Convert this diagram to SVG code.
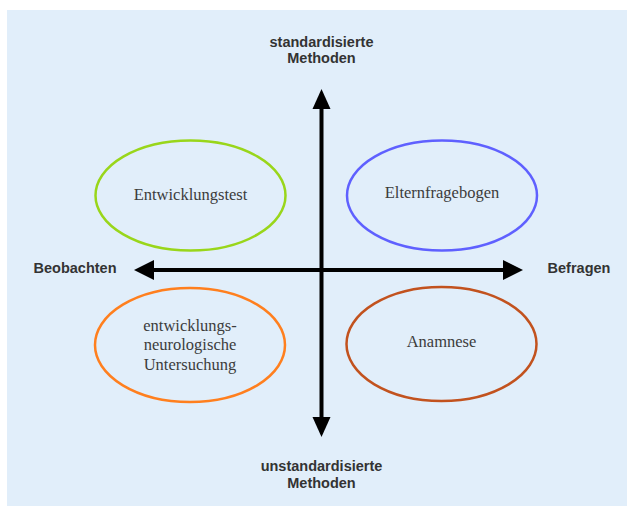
<svg xmlns="http://www.w3.org/2000/svg" width="627" height="506" viewBox="0 0 627 506">
<style>
.bg{fill:#e1eefa}
.ell{fill:none;stroke-width:2.5}
.lbl{font-family:"Liberation Serif","Times New Roman",serif;font-size:16.5px;fill:#3c3c3c;text-anchor:middle}
.ax{font-family:"Liberation Sans",Arial,sans-serif;font-size:14.5px;font-weight:bold;fill:#333;text-anchor:middle}
.shaft{stroke:#000;stroke-width:4;fill:none}
.head{fill:#000}
</style>
<rect class="bg" x="7" y="10" width="620" height="496"/>
<g id="connectors">
  <line class="shaft" x1="321.5" y1="106" x2="321.5" y2="420"/>
  <line class="shaft" x1="151" y1="270" x2="505" y2="270"/>
  <polygon class="head" points="321.5,89 312.5,109 330.5,109"/>
  <polygon class="head" points="321.5,437 312.5,417 330.5,417"/>
  <polygon class="head" points="134,270 154,260 154,280"/>
  <polygon class="head" points="523,270 503,260 503,280"/>
</g>
<g id="axis-top"><text class="ax" x="321.5" y="47">standardisierte</text><text class="ax" x="321.5" y="63">Methoden</text></g>
<g id="axis-bottom"><text class="ax" x="321.5" y="471">unstandardisierte</text><text class="ax" x="321.5" y="488">Methoden</text></g>
<g id="axis-left"><text class="ax" x="75" y="273">Beobachten</text></g>
<g id="axis-right"><text class="ax" x="579" y="273">Befragen</text></g>
<g id="entwicklungstest">
  <ellipse class="ell" cx="190.5" cy="195.5" rx="95" ry="55" stroke="#99d61a"/>
  <text class="lbl" x="190.5" y="200">Entwicklungstest</text>
</g>
<g id="elternfragebogen">
  <ellipse class="ell" cx="442" cy="195.5" rx="95" ry="55" stroke="#5f60ff"/>
  <text class="lbl" x="442" y="198">Elternfragebogen</text>
</g>
<g id="entwicklungsneurologisch">
  <ellipse class="ell" cx="190" cy="345" rx="95" ry="57" stroke="#ff7f1e"/>
  <text class="lbl" x="190" y="331">entwicklungs-</text>
  <text class="lbl" x="190" y="350">neurologische</text>
  <text class="lbl" x="190" y="370">Untersuchung</text>
</g>
<g id="anamnese">
  <ellipse class="ell" cx="441.5" cy="344" rx="95" ry="57" stroke="#c2521e"/>
  <text class="lbl" x="441.5" y="347">Anamnese</text>
</g>
</svg>
